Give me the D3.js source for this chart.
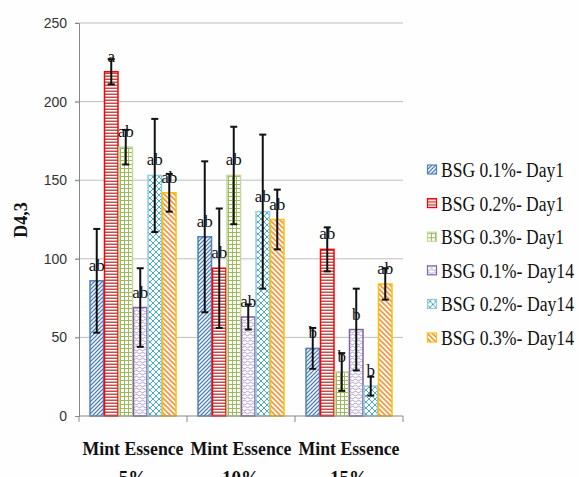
<!DOCTYPE html>
<html>
<head>
<meta charset="utf-8">
<script src="https://cdn.jsdelivr.net/npm/d3@7"></script>
<style>
  body { margin: 0; background: #fefefe; }
  svg { display: block; }
  .serif { font-family: "Liberation Serif", "Times New Roman", serif; }
  .sans { font-family: "Liberation Sans", Arial, sans-serif; }
</style>
</head>
<body>
<div id="chart"></div>
<script>
// Data
const categories = ["Mint Essence 5%", "Mint Essence 10%", "Mint Essence 15%"];
const seriesNames = ["BSG 0.1%- Day1", "BSG 0.2%- Day1", "BSG 0.3%- Day1",
                     "BSG 0.1%- Day14", "BSG 0.2%- Day14", "BSG 0.3%- Day14"];
// values per series, one per category
const values = [
    [86, 114, 43],
    [219, 94, 106],
    [171, 153, 28],
    [69, 63, 55],
    [153, 130, 19],
    [142, 125, 84]
];
const errors = [
    [33, 48, 13],
    [8, 38, 14],
    [11, 31, 12],
    [25, 8, 26],
    [36, 49, 6],
    [12, 19, 10]
];
const letters = [
    ["ab", "ab", "b"],
    ["a", "ab", "ab"],
    ["ab", "ab", "b"],
    ["ab", "ab", "b"],
    ["ab", "ab", "b"],
    ["ab", "ab", "ab"]
];
const yTicks = [0, 50, 100, 150, 200, 250];

const width = 579, height = 477;
const plotLeft = 79, plotRight = 403, plotTop = 23, plotBottom = 416;

const svg = d3.select("#chart").append("svg")
    .attr("width", width)
    .attr("height", height);

// Patterns, one per series
const defs = svg.append("defs");
const patterns = [
    { id: "p0", size: 4, draw: p => p.append("path").attr("d", "M-1,1 l2,-2 M0,4 l4,-4 M3,5 l2,-2")
        .attr("stroke", "#4f81bd").attr("stroke-width", 1.3) },
    { id: "p1", size: 3, draw: p => p.append("rect").attr("x", 0).attr("y", 0.5).attr("width", 3).attr("height", 1.5)
        .attr("fill", "#c0504d") },
    { id: "p2", size: 4, draw: p => p.append("path").attr("d", "M0,0.5 h4 M0.5,0 v4")
        .attr("stroke", "#9bbb59").attr("stroke-width", 1) },
    { id: "p3", size: 6, draw: p => p.append("path").attr("d", "M0,2 q1.5,-1.5 3,0 t3,0 M-3,5 q1.5,-1.5 3,0 t3,0 t3,0")
        .attr("stroke", "#a08cc0").attr("stroke-width", 0.8).attr("fill", "none") },
    { id: "p4", size: 6, draw: p => p.append("path").attr("d", "M0,0 l6,6 M6,0 l-6,6")
        .attr("stroke", "#4bacc6").attr("stroke-width", 1) },
    { id: "p5", size: 5, draw: p => p.append("path").attr("d", "M-1,-1 l7,7 M-1,4 l2,2 M4,-1 l2,2")
        .attr("stroke", "#f79646").attr("stroke-width", 1.7) }
];
patterns.forEach(d => {
    const p = defs.append("pattern")
        .attr("id", d.id)
        .attr("patternUnits", "userSpaceOnUse")
        .attr("width", d.size)
        .attr("height", d.size);
    p.append("rect").attr("width", d.size).attr("height", d.size).attr("fill", "#fff");
    d.draw(p);
});
const borders = ["#4f81bd", "#ff0000", "#c3d69b", "#8064a2", "#93cddd", "#ffc000"];

// Scales
const y = d3.scaleLinear().domain([0, 250]).range([plotBottom, plotTop]);
const x0 = d3.scaleBand().domain(categories).range([plotLeft, plotRight]);
const x1 = d3.scaleBand().domain(d3.range(seriesNames.length))
    .range([10.5, x0.bandwidth() - 10.5]);

// Gridlines
svg.append("g").selectAll("line")
    .data(yTicks.filter(t => t > 0))
    .join("line")
    .attr("x1", plotLeft - 4).attr("x2", plotRight)
    .attr("y1", d => y(d)).attr("y2", d => y(d))
    .attr("stroke", "#bfbfbf").attr("stroke-width", 1);

// Y axis
const yAxis = svg.append("g")
    .attr("transform", `translate(${plotLeft},0)`)
    .call(d3.axisLeft(y).tickValues(yTicks).tickSize(4).tickPadding(8));
yAxis.attr("font-family", null);
yAxis.select(".domain").attr("stroke", "#888");
yAxis.selectAll(".tick line").attr("stroke", "#888");
yAxis.selectAll(".tick text")
    .attr("class", "sans")
    .attr("font-size", 14)
    .attr("fill", "#333");

// Flattened bar data
const bars = [];
seriesNames.forEach((s, si) => {
    categories.forEach((c, ci) => {
        bars.push({ s: si, c: c, v: values[si][ci], e: errors[si][ci], l: letters[si][ci] });
    });
});

// Bars
svg.append("g").selectAll("rect")
    .data(bars)
    .join("rect")
    .attr("x", d => x0(d.c) + x1(d.s) + 0.5)
    .attr("y", d => y(d.v))
    .attr("width", x1.bandwidth() - 1)
    .attr("height", d => y(0) - y(d.v))
    .attr("fill", d => `url(#p${d.s})`)
    .attr("stroke", d => borders[d.s])
    .attr("stroke-width", 1.5);

// Letters above bars
svg.append("g").selectAll("text")
    .data(bars)
    .join("text")
    .attr("class", "serif")
    .attr("x", d => x0(d.c) + x1(d.s) + x1.bandwidth() / 2)
    .attr("y", d => y(d.v) - 10)
    .attr("text-anchor", "middle")
    .attr("font-size", 17)
    .attr("fill", "#111")
    .text(d => d.l);

// Error bars
const eb = svg.append("g").attr("stroke", "#111").attr("stroke-width", 2);
bars.forEach(d => {
    const cx = x0(d.c) + x1(d.s) + x1.bandwidth() / 2;
    eb.append("line").attr("x1", cx).attr("x2", cx).attr("y1", y(d.v + d.e)).attr("y2", y(d.v - d.e));
    eb.append("line").attr("x1", cx - 3.5).attr("x2", cx + 3.5).attr("y1", y(d.v + d.e)).attr("y2", y(d.v + d.e));
    eb.append("line").attr("x1", cx - 3.5).attr("x2", cx + 3.5).attr("y1", y(d.v - d.e)).attr("y2", y(d.v - d.e));
});

// X axis
svg.append("line")
    .attr("x1", plotLeft).attr("x2", plotRight)
    .attr("y1", plotBottom).attr("y2", plotBottom)
    .attr("stroke", "#888");
svg.append("g").selectAll("line")
    .data(categories.map(c => x0(c)).concat([plotRight]))
    .join("line")
    .attr("x1", d => d).attr("x2", d => d)
    .attr("y1", plotBottom).attr("y2", plotBottom + 6)
    .attr("stroke", "#888");

// Category labels (two lines, second one runs off the bottom like the original)
const xl = svg.append("g")
    .attr("class", "serif")
    .attr("font-weight", "bold")
    .attr("font-size", 19)
    .attr("text-anchor", "middle")
    .attr("fill", "#111");
categories.forEach(c => {
    const cx = x0(c) + x0.bandwidth() / 2;
    const parts = c.split(" ");
    xl.append("text").attr("x", cx).attr("y", 455)
        .attr("textLength", 101).attr("lengthAdjust", "spacingAndGlyphs")
        .text(parts.slice(0, 2).join(" "));
    xl.append("text").attr("x", cx).attr("y", 484).text(parts[2]);
});

// Y title
svg.append("text")
    .attr("class", "serif")
    .attr("transform", "translate(27,220) rotate(-90)")
    .attr("text-anchor", "middle")
    .attr("font-weight", "bold")
    .attr("font-size", 18)
    .attr("fill", "#111")
    .text("D4,3");

// Legend
const legend = svg.append("g").selectAll("g")
    .data(seriesNames)
    .join("g")
    .attr("transform", (d, i) => `translate(427,${170 + i * 33.6})`);
legend.append("rect")
    .attr("x", 0.5).attr("y", -5)
    .attr("width", 9).attr("height", 9)
    .attr("fill", (d, i) => `url(#p${i})`)
    .attr("stroke", (d, i) => borders[i])
    .attr("stroke-width", 1.2);
legend.append("text")
    .attr("class", "serif")
    .attr("x", 14)
    .attr("y", 7)
    .attr("font-size", 20)
    .attr("fill", "#111")
    .attr("textLength", (d, i) => i < 3 ? 123 : 133)
    .attr("lengthAdjust", "spacingAndGlyphs")
    .text(d => d);
</script>
</body>
</html>
